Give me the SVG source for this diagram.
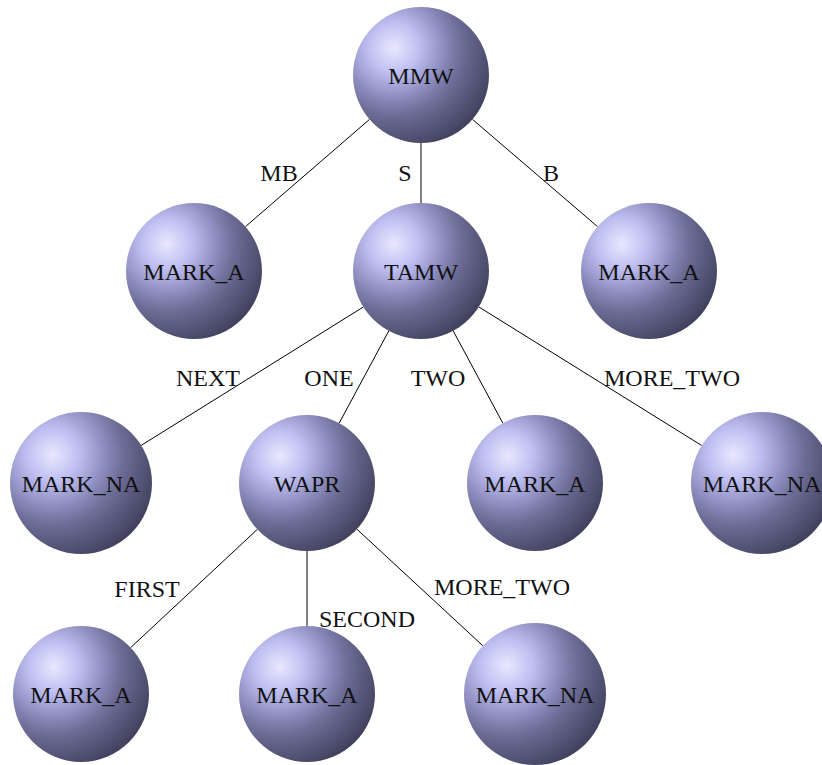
<svg xmlns="http://www.w3.org/2000/svg" width="822" height="765" viewBox="0 0 822 765">
  <defs>
    <!-- ball shading: light spot up-left, darkening toward the rim -->
    <radialGradient id="ball" cx="0.3" cy="0.3" fx="0.3" fy="0.3" r="1">
      <stop offset="0" stop-color="#e8e8ff"/>
      <stop offset="0.18" stop-color="#c0c0f2"/>
      <stop offset="0.36" stop-color="#8e8ec0"/>
      <stop offset="0.5" stop-color="#6c6c96"/>
      <stop offset="1" stop-color="#1e1e30"/>
    </radialGradient>
  </defs>
  <style>
    .ball { fill: url(#ball); stroke: none; }
    .edge { stroke: #000; stroke-width: 1; fill: none; }
    text { font-family: "Liberation Serif", "DejaVu Serif", serif; font-size: 24px; fill: #111; text-anchor: middle; }
  </style>
  <rect width="822" height="765" fill="#fff"/>

  <g id="connectors">
    <line class="edge" x1="369.5" y1="119.4" x2="245.5" y2="226.6"/>
    <line class="edge" x1="421" y1="143" x2="421" y2="203"/>
    <line class="edge" x1="472.5" y1="119.4" x2="597.5" y2="226.6"/>
    <line class="edge" x1="363.3" y1="307" x2="141.2" y2="445.4"/>
    <line class="edge" x1="388.8" y1="330.9" x2="339.2" y2="423.1"/>
    <line class="edge" x1="453.2" y1="330.9" x2="502.8" y2="423.1"/>
    <line class="edge" x1="478.8" y1="306.9" x2="701.7" y2="445.5"/>
    <line class="edge" x1="257.3" y1="529.4" x2="130.7" y2="647.6"/>
    <line class="edge" x1="307" y1="551" x2="307" y2="626"/>
    <line class="edge" x1="356.9" y1="529.2" x2="482.9" y2="645.8"/>
  </g>

  <g id="edge-labels">
    <text x="279" y="181">MB</text>
    <text x="405" y="181">S</text>
    <text x="551" y="181">B</text>
    <text x="208" y="386">NEXT</text>
    <text x="329" y="386">ONE</text>
    <text x="438" y="386">TWO</text>
    <text x="672" y="386">MORE_TWO</text>
    <text x="147" y="597">FIRST</text>
    <text x="367" y="627">SECOND</text>
    <text x="502" y="595">MORE_TWO</text>
  </g>

  <g id="n-mmw"><circle class="ball" cx="421" cy="75" r="68"/><text x="421" y="84">MMW</text></g>
  <g id="n-mb"><circle class="ball" cx="194" cy="271" r="68"/><text x="194" y="280">MARK_A</text></g>
  <g id="n-tamw"><circle class="ball" cx="421" cy="271" r="68"/><text x="421" y="280">TAMW</text></g>
  <g id="n-b"><circle class="ball" cx="649" cy="271" r="68"/><text x="649" y="280">MARK_A</text></g>
  <g id="n-next"><circle class="ball" cx="81" cy="483" r="71"/><text x="81" y="492">MARK_NA</text></g>
  <g id="n-wapr"><circle class="ball" cx="307" cy="483" r="68"/><text x="307" y="492">WAPR</text></g>
  <g id="n-two"><circle class="ball" cx="535" cy="483" r="68"/><text x="535" y="492">MARK_A</text></g>
  <g id="n-more"><circle class="ball" cx="762" cy="483" r="71"/><text x="762" y="492">MARK_NA</text></g>
  <g id="n-first"><circle class="ball" cx="81" cy="694" r="68"/><text x="81" y="703">MARK_A</text></g>
  <g id="n-second"><circle class="ball" cx="307" cy="694" r="68"/><text x="307" y="703">MARK_A</text></g>
  <g id="n-wmore"><circle class="ball" cx="535" cy="694" r="71"/><text x="535" y="703">MARK_NA</text></g>
</svg>
